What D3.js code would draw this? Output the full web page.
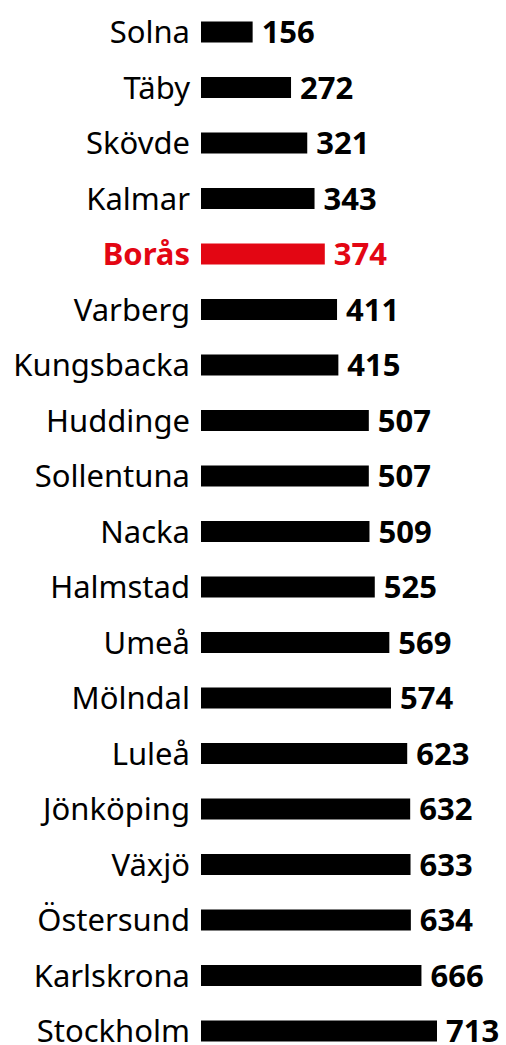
<!DOCTYPE html>
<html>
<head>
<meta charset="utf-8">
<script src="https://cdn.jsdelivr.net/npm/d3@7"></script>
<style>
  body { margin: 0; background: #fff; }
  svg { display: block; }
</style>
</head>
<body>
<script>
// GLOBAL VARIABLES
const WIDTH = 506;
const HEIGHT = 1045;

// DATA
const cities = ["Solna", "Täby", "Skövde", "Kalmar", "Borås", "Varberg", "Kungsbacka",
  "Huddinge", "Sollentuna", "Nacka", "Halmstad", "Umeå", "Mölndal", "Luleå",
  "Jönköping", "Växjö", "Östersund", "Karlskrona", "Stockholm"];
const values = [156, 272, 321, 343, 374, 411, 415, 507, 507, 509, 525, 569, 574,
  623, 632, 633, 634, 666, 713];
const highlighted = ["Borås"];

const data = cities.map((c, i) => ({ city: c, value: values[i] }));

const svg = d3.select("body").append("svg").attr("width", WIDTH).attr("height", HEIGHT);

// SCALES
const x = d3.scaleLinear().domain([0, 713]).range([201, 437]);
const y = d3.scalePoint().domain(cities).range([32, 1031]);

const FS = 31;
const colorOf = d => highlighted.includes(d.city) ? "#e30613" : "#000";

const rows = svg.append("g")
  .selectAll("g")
  .data(data)
  .enter()
  .append("g")
  .attr("transform", d => `translate(0,${y(d.city)})`);

rows.append("rect")
  .attr("x", x(0))
  .attr("y", -10.5)
  .attr("width", d => x(d.value) - x(0))
  .attr("height", 21)
  .attr("fill", colorOf);

rows.append("text")
  .attr("x", 190)
  .attr("y", 11)
  .attr("text-anchor", "end")
  .attr("font-family", "'Noto Sans', sans-serif")
  .attr("font-size", FS)
  .attr("font-weight", d => highlighted.includes(d.city) ? "bold" : "normal")
  .attr("fill", colorOf)
  .text(d => d.city);

rows.append("text")
  .attr("x", d => x(d.value) + 9)
  .attr("y", 11)
  .attr("font-family", "'Noto Sans', sans-serif")
  .attr("font-size", FS)
  .attr("font-weight", "bold")
  .attr("fill", colorOf)
  .text(d => d.value);
</script>
</body>
</html>
